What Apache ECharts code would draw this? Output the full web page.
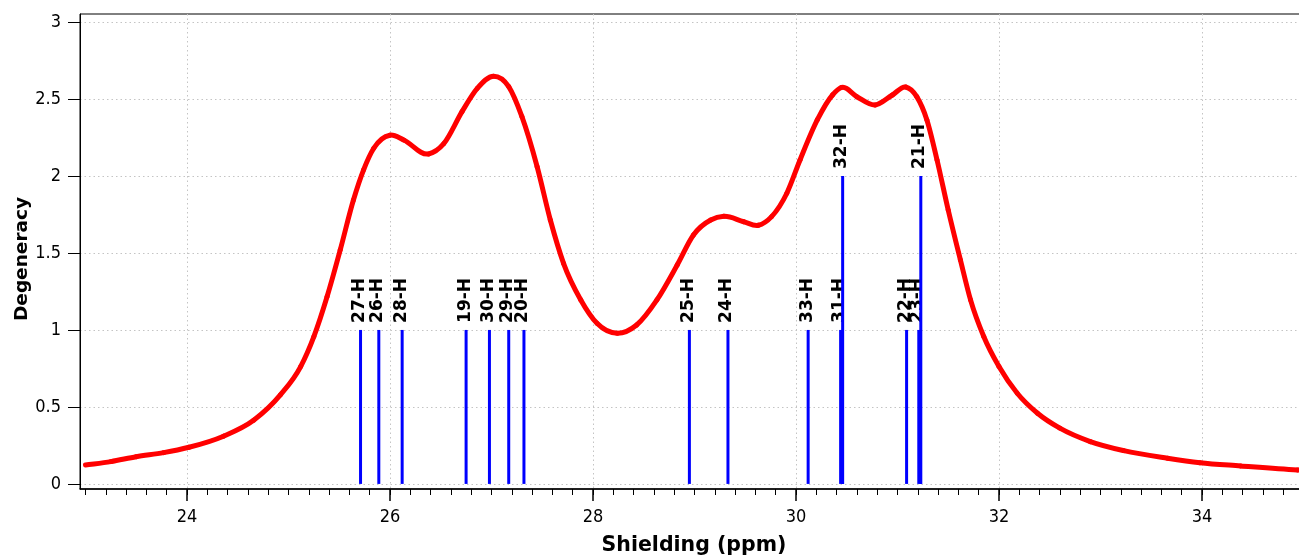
<!DOCTYPE html>
<html>
<head>
<meta charset="utf-8">
<script src="https://cdn.jsdelivr.net/npm/echarts@6/dist/echarts.min.js"></script>
<style>
html,body{margin:0;padding:0;background:#fff;}
#chart{width:1299px;height:557px;}
</style>
</head>
<body>
<div id="chart"></div>
<script>
// Broadened spectrum
var curveX = [23.0, 23.25, 23.5, 23.77, 24.02, 24.36, 24.66, 24.92, 25.12, 25.25, 25.38, 25.51, 25.64, 25.74, 25.84, 26.0, 26.135, 26.38, 26.53, 26.71, 26.86, 27.02, 27.17, 27.30, 27.45, 27.58, 27.71, 27.88, 28.04, 28.24, 28.43, 28.63, 28.83, 28.99, 29.16, 29.29, 29.485, 29.63, 29.76, 29.91, 30.04, 30.21, 30.36, 30.45, 30.60, 30.78, 30.95, 31.08, 31.19, 31.29, 31.39, 31.50, 31.62, 31.72, 31.85, 32.0, 32.18, 32.38, 32.60, 32.90, 33.23, 33.66, 33.98, 34.38, 34.94, 34.97];
var curveY = [0.123, 0.145, 0.177, 0.203, 0.238, 0.31, 0.415, 0.578, 0.762, 0.957, 1.216, 1.52, 1.844, 2.04, 2.18, 2.265, 2.234, 2.143, 2.21, 2.418, 2.569, 2.648, 2.58, 2.385, 2.06, 1.714, 1.433, 1.195, 1.043, 0.978, 1.032, 1.195, 1.422, 1.617, 1.714, 1.738, 1.703, 1.68, 1.736, 1.888, 2.104, 2.364, 2.526, 2.575, 2.515, 2.461, 2.526, 2.578, 2.515, 2.364, 2.104, 1.779, 1.455, 1.195, 0.957, 0.762, 0.589, 0.459, 0.362, 0.275, 0.216, 0.167, 0.138, 0.117, 0.091, 0.09];

// Stick spectrum
var stickLabels = ['27-H','26-H','28-H','19-H','30-H','29-H','20-H','25-H','24-H','33-H','31-H','32-H','22-H','23-H','21-H'];
var stickX = [25.71, 25.89, 26.12, 26.75, 26.98, 27.17, 27.32, 28.95, 29.33, 30.12, 30.44, 30.46, 31.09, 31.21, 31.23];
var stickY = [1, 1, 1, 1, 1, 1, 1, 1, 1, 1, 1, 2, 1, 1, 2];

// Axis ticks
var xMajorTicks = [24, 26, 28, 30, 32, 34];
var yTicks = [0, 0.5, 1, 1.5, 2, 2.5, 3];

var xMinorTicks = [];
for (var i = 0; i < 60; i++) { xMinorTicks.push(Math.round((23.0 + i * 0.2) * 10) / 10); }

var FONT = '"DejaVu Sans", Verdana, sans-serif';
var TICKFONT = '"DejaVu Sans Condensed", "DejaVu Sans", sans-serif';

var curveData = curveX.map(function (x, i) { return [x, curveY[i]]; });
var stickData = stickX.map(function (x, i) { return [x, stickY[i], i]; });

// Hermite slope at point i (finite difference along x)
function slope(i) {
  var n = curveX.length;
  if (i === 0) return (curveY[1] - curveY[0]) / (curveX[1] - curveX[0]);
  if (i === n - 1) return (curveY[n - 1] - curveY[n - 2]) / (curveX[n - 1] - curveX[n - 2]);
  var h0 = curveX[i] - curveX[i - 1], h1 = curveX[i + 1] - curveX[i];
  var d0 = (curveY[i] - curveY[i - 1]) / h0, d1 = (curveY[i + 1] - curveY[i]) / h1;
  return (h1 * d0 + h0 * d1) / (h0 + h1);
}

var chart = echarts.init(document.getElementById('chart'), null, {renderer: 'canvas'});
chart.setOption({
  animation: false,
  backgroundColor: '#ffffff',
  grid: {left: 80, top: 14, right: -1, bottom: 68, show: true, borderColor: '#000', borderWidth: 1, containLabel: false, outerBoundsMode: 'none'},
  graphic: [{
    type: 'text', x: 22, y: 259, rotation: Math.PI / 2,
    style: {text: 'Degeneracy', fontFamily: FONT, fontWeight: 'bold', fontSize: 18.5, fill: '#000', align: 'center', verticalAlign: 'middle'}
  }],
  xAxis: [{
    type: 'value', min: 22.946, max: 34.966,
    name: 'Shielding (ppm)', nameLocation: 'middle', nameGap: 46,
    nameTextStyle: {fontFamily: FONT, fontWeight: 'bold', fontSize: 20.5, color: '#000', padding: [0, 0, 0, 8]},
    axisLine: {show: true, onZero: false, lineStyle: {color: '#000', width: 1.5}},
    axisTick: {show: true, length: 12, customValues: xMajorTicks, lineStyle: {color: '#000', width: 1.5}},
    axisLabel: {show: true, customValues: xMajorTicks, margin: 19, fontFamily: TICKFONT, fontSize: 18, color: '#000'},
    splitLine: {show: true, lineStyle: {color: '#c4c4c4', width: 1, type: [1.5, 3]}}
  }, {
    type: 'value', min: 22.946, max: 34.966, position: 'bottom', gridIndex: 0,
    axisLine: {show: false, onZero: false},
    axisTick: {show: true, length: 6, customValues: xMinorTicks, lineStyle: {color: '#000', width: 1}},
    axisLabel: {show: false},
    splitLine: {show: false}
  }],
  yAxis: {
    type: 'value', min: -0.033, max: 3.052,
    axisLine: {show: true, onZero: false, lineStyle: {color: '#000', width: 1}},
    axisTick: {show: true, length: 12, customValues: yTicks, lineStyle: {color: '#000', width: 1}},
    axisLabel: {show: true, customValues: yTicks, margin: 19, fontFamily: TICKFONT, fontSize: 18, color: '#000'},
    splitLine: {show: true, lineStyle: {color: '#c4c4c4', width: 1, type: [1.5, 3]}}
  },
  series: [{
    type: 'custom',
    xAxisIndex: 0,
    data: curveData,
    z: 2,
    renderItem: function (params, api) {
      var i = params.dataIndex;
      if (i >= curveX.length - 1) return null;
      var x0 = curveX[i], x1 = curveX[i + 1];
      var h = x1 - x0;
      var m0 = slope(i), m1 = slope(i + 1);
      var p0 = api.coord([x0, curveY[i]]);
      var c1 = api.coord([x0 + h / 3, curveY[i] + m0 * h / 3]);
      var c2 = api.coord([x1 - h / 3, curveY[i + 1] - m1 * h / 3]);
      var p1 = api.coord([x1, curveY[i + 1]]);
      return {
        type: 'bezierCurve',
        shape: {x1: p0[0], y1: p0[1], cpx1: c1[0], cpy1: c1[1], cpx2: c2[0], cpy2: c2[1], x2: p1[0], y2: p1[1]},
        style: {stroke: '#ff0000', lineWidth: 5, fill: null, lineCap: 'round'}
      };
    }
  }, {
    type: 'custom',
    xAxisIndex: 0,
    data: stickData,
    z: 3,
    renderItem: function (params, api) {
      var x = api.value(0), h = api.value(1), idx = api.value(2);
      var p0 = api.coord([x, 0]);
      var p1 = api.coord([x, h]);
      return {
        type: 'group',
        children: [{
          type: 'line',
          shape: {x1: p0[0], y1: p0[1], x2: p1[0], y2: p1[1]},
          style: {stroke: '#0000ff', lineWidth: 3}
        }, {
          type: 'text',
          x: p1[0] - 1, y: p1[1] - 7,
          rotation: Math.PI / 2,
          style: {
            text: stickLabels[idx],
            fill: '#000',
            fontFamily: FONT, fontWeight: 'bold', fontSize: 17,
            align: 'left', verticalAlign: 'middle'
          }
        }]
      };
    }
  }]
});
</script>
</body>
</html>
